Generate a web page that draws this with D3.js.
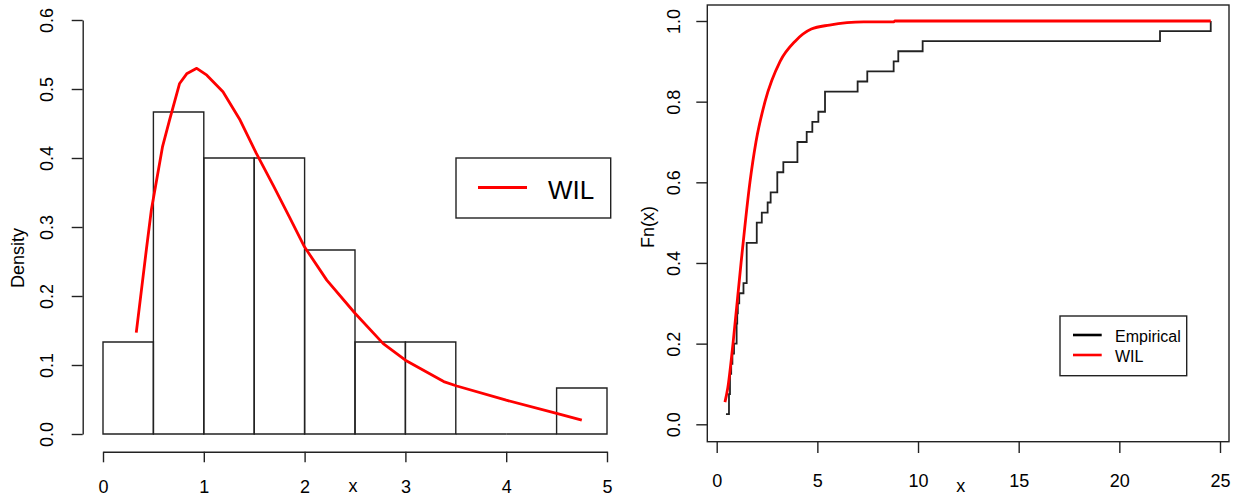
<!doctype html>
<html>

<head>
  <meta charset="utf-8">
  <title>WIL fit</title>
  <style>
    body { margin: 0; background: #fff; }
    #chart text { font-family: "Liberation Sans", Arial, sans-serif; fill: #000; }
  </style>
</head>

<body>
  <div id="chart"></div>
  <script src="https://d3js.org/d3.v7.min.js"></script>
  <script>
    // histogram (left panel)
    const histBreaks = [0, 0.5, 1, 1.5, 2, 2.5, 3, 3.5, 4, 4.5, 5];
    const histDensity = [0.1333, 0.4667, 0.4, 0.4, 0.2667, 0.1333, 0.1333, 0, 0, 0.0667];
    // fitted WIL density
    const densX = [0.33, 0.43, 0.48, 0.59, 0.66, 0.76, 0.83, 0.93, 1.03, 1.19, 1.36, 1.52, 1.69, 1.855,
      2.0, 2.22, 2.5, 2.78, 3.0, 3.38, 3.51, 4.0, 4.5, 4.75];
    const densY = [0.147, 0.267, 0.325, 0.416, 0.455, 0.508, 0.522, 0.530, 0.520, 0.496, 0.455, 0.407,
      0.36, 0.313, 0.271, 0.223, 0.175, 0.131, 0.107, 0.076, 0.0696, 0.049, 0.030, 0.020];

    // sorted sample (right panel, empirical cdf)
    const sample = [0.46, 0.61, 0.61, 0.66, 0.66, 0.72, 0.78, 0.86, 0.99, 0.99,
      1.02, 1.05, 1.12, 1.33, 1.49, 1.49, 1.49, 1.49, 1.99, 1.99,
      2.24, 2.53, 2.68, 3.01, 3.01, 3.31, 4.01, 4.01, 4.47, 4.75,
      5.05, 5.38, 5.38, 7.0, 7.48, 8.79, 9.02, 10.23, 22.02, 24.54];
    // fitted WIL cdf
    const wilX = [0.41, 0.55, 0.81, 1.21, 1.65, 1.95, 2.4, 3.15, 3.9, 4.7, 5.6, 7.3, 8.8, 8.85, 24.54];
    const wilF = [0.055, 0.09, 0.2, 0.4, 0.6, 0.7, 0.8, 0.9, 0.95, 0.98, 0.99, 0.998, 0.998, 1.0, 1.0];

    const yTicksL = [0, 0.1, 0.2, 0.3, 0.4, 0.5, 0.6];
    const xTicksL = [0, 1, 2, 3, 4, 5];
    const yTicksR = [0, 0.2, 0.4, 0.6, 0.8, 1.0];
    const xTicksR = [0, 5, 10, 15, 20, 25];

    const svg = d3.select('#chart').append('svg')
      .attr('width', 1244)
      .attr('height', 497);

    const fmt1 = d3.format('.1f');
    const fmt0 = d3.format('d');

    // ---------- left: histogram + density ----------
    const xL = d3.scaleLinear().domain([0, 5]).range([103, 607]);
    const yL = d3.scaleLinear().domain([0, 0.6]).range([434, 20]);

    const bins = histDensity.map((d, i) => ({ x0: histBreaks[i], x1: histBreaks[i + 1], d: d }));
    svg.append('g').selectAll('path')
      .data(bins)
      .join('path')
      .attr('d', b => `M${xL(b.x0)},${yL(0)}V${yL(b.d)}H${xL(b.x1)}V${yL(0)}Z`)
      .attr('fill', 'none')
      .attr('stroke', '#222')
      .attr('stroke-width', 1.4);

    svg.append('path')
      .datum(densX.map((x, i) => [x, densY[i]]))
      .attr('d', d3.line().x(d => xL(d[0])).y(d => yL(d[1])))
      .attr('fill', 'none')
      .attr('stroke', '#ff0000')
      .attr('stroke-width', 2.8)
      .attr('stroke-linejoin', 'round');

    const axL = svg.append('g')
      .attr('transform', 'translate(82.7,0)')
      .call(d3.axisLeft(yL).tickValues(yTicksL).tickFormat(fmt1).tickSize(11).tickSizeOuter(0));
    axL.selectAll('text')
      .attr('x', null).attr('dy', '0.35em')
      .attr('text-anchor', 'middle')
      .attr('transform', 'translate(-36,0) rotate(-90)');

    const axLb = svg.append('g')
      .attr('transform', 'translate(0,451.7)')
      .call(d3.axisBottom(xL).tickValues(xTicksL).tickFormat(fmt0).tickSize(10.6).tickSizeOuter(0));
    axLb.selectAll('text').attr('y', 41.6).attr('dy', null);

    // ---------- right: ecdf ----------
    const xR = d3.scaleLinear().domain([0, 25]).range([716.7, 1220]);
    const yR = d3.scaleLinear().domain([0, 1]).range([424.3, 21]);
    const n = sample.length;

    svg.append('path')
      .datum(sample.map((x, i) => [x, (i + 1) / n]))
      .attr('d', d3.line().x(d => xR(d[0])).y(d => yR(d[1])).curve(d3.curveStepAfter))
      .attr('fill', 'none')
      .attr('stroke', '#222')
      .attr('stroke-width', 1.8);

    svg.append('path')
      .datum(wilX.map((x, i) => [x, wilF[i]]))
      .attr('d', d3.line().x(d => xR(d[0])).y(d => yR(d[1])).curve(d3.curveMonotoneX))
      .attr('fill', 'none')
      .attr('stroke', '#ff0000')
      .attr('stroke-width', 2.8);

    svg.append('rect')
      .attr('x', 707.3).attr('y', 5)
      .attr('width', 1229 - 707.3).attr('height', 441.7 - 5)
      .attr('fill', 'none')
      .attr('stroke', '#222')
      .attr('stroke-width', 1.4);

    const axR = svg.append('g')
      .attr('transform', 'translate(707.3,0)')
      .call(d3.axisLeft(yR).tickValues(yTicksR).tickFormat(fmt1).tickSize(11).tickSizeOuter(0));
    axR.select('.domain').remove();
    axR.selectAll('text')
      .attr('x', null).attr('dy', '0.35em')
      .attr('text-anchor', 'middle')
      .attr('transform', 'translate(-34,0) rotate(-90)');

    const axRb = svg.append('g')
      .attr('transform', 'translate(0,441.7)')
      .call(d3.axisBottom(xR).tickValues(xTicksR).tickFormat(fmt0).tickSize(11.3).tickSizeOuter(0));
    axRb.select('.domain').remove();
    axRb.selectAll('text').attr('y', 45).attr('dy', null);

    // axis styling like base R
    svg.selectAll('.tick line').attr('stroke', '#222').attr('stroke-width', 1.4);
    svg.selectAll('.domain').attr('stroke', '#222').attr('stroke-width', 1.4);
    svg.selectAll('.tick text').style('font-size', '18px');

    // axis titles
    svg.append('text')
      .attr('transform', 'translate(17.5,258) rotate(-90)')
      .attr('text-anchor', 'middle').attr('dy', '0.35em')
      .style('font-size', '18px')
      .text('Density');
    svg.append('text')
      .attr('x', 353).attr('y', 492)
      .attr('text-anchor', 'middle')
      .style('font-size', '18px')
      .text('x');
    svg.append('text')
      .attr('transform', 'translate(648,227) rotate(-90)')
      .attr('text-anchor', 'middle').attr('dy', '0.35em')
      .style('font-size', '18px')
      .text('Fn(x)');
    svg.append('text')
      .attr('x', 960.7).attr('y', 492)
      .attr('text-anchor', 'middle')
      .style('font-size', '18px')
      .text('x');

    // legends
    const legL = svg.append('g');
    legL.append('rect')
      .attr('x', 456).attr('y', 158).attr('width', 154.7).attr('height', 60)
      .attr('fill', '#fff').attr('stroke', '#222').attr('stroke-width', 1.4);
    legL.append('line')
      .attr('x1', 478).attr('x2', 527).attr('y1', 187.5).attr('y2', 187.5)
      .attr('stroke', '#ff0000').attr('stroke-width', 2.8);
    legL.append('text')
      .attr('x', 548).attr('y', 199)
      .style('font-size', '26px')
      .text('WIL');

    const legR = svg.append('g');
    legR.append('rect')
      .attr('x', 1060).attr('y', 316).attr('width', 126.7).attr('height', 59.7)
      .attr('fill', '#fff').attr('stroke', '#222').attr('stroke-width', 1.4);
    const legItems = [{ name: 'Empirical', color: '#000' }, { name: 'WIL', color: '#ff0000' }];
    legR.selectAll('line')
      .data(legItems)
      .join('line')
      .attr('x1', 1073).attr('x2', 1101.7)
      .attr('y1', (d, i) => 335 + i * 20).attr('y2', (d, i) => 335 + i * 20)
      .attr('stroke', d => d.color).attr('stroke-width', 2.6);
    legR.selectAll('text')
      .data(legItems)
      .join('text')
      .attr('x', 1115)
      .attr('y', (d, i) => 341.5 + i * 20.5)
      .style('font-size', '16px')
      .text(d => d.name);
  </script>
</body>

</html>
